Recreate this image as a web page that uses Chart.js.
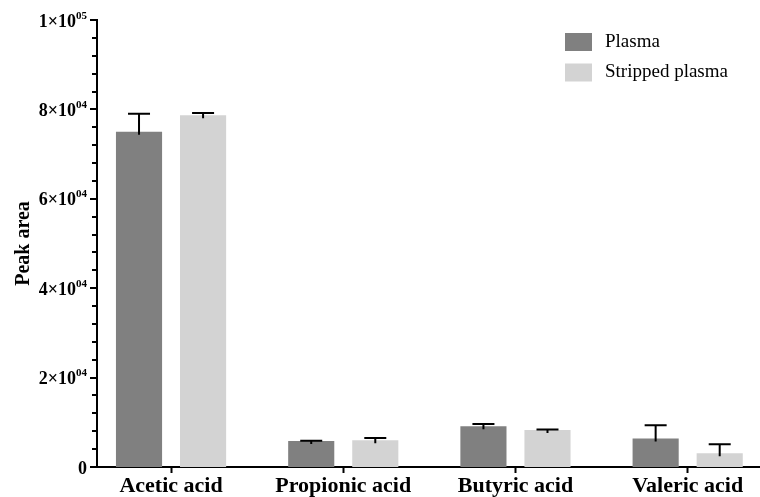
<!DOCTYPE html>
<html>
<head>
<meta charset="utf-8">
<script src="https://cdn.jsdelivr.net/npm/chart.js@4"></script>
<style>
  html, body { margin: 0; padding: 0; background: #fff; overflow: hidden; }
  #wrap { width: 760px; height: 497px; }
</style>
</head>
<body>
<div id="wrap"><canvas id="acidChart"></canvas></div>
<script>
const categories = ['Acetic acid', 'Propionic acid', 'Butyric acid', 'Valeric acid'];
const plasmaValues = [75000, 5800, 9100, 6400];
const plasmaErrors = [4000, 100, 500, 2950];
const strippedValues = [78700, 6000, 8300, 3050];
const strippedErrors = [500, 500, 100, 2050];
const yTickValues = [0, 20000, 40000, 60000, 80000, 100000];
// tick label = base text + superscript exponent
const yTickBase = ['0', '2\u00d710', '4\u00d710', '6\u00d710', '8\u00d710', '1\u00d710'];
const yTickExp = ['', '04', '04', '04', '04', '05'];

const serif = '"Liberation Serif", "Times New Roman", serif';

// error whiskers (upper only), y-axis ticks and labels, legend
const extras = {
    id: 'extras',
    afterDatasetsDraw(chart) {
        const ctx = chart.ctx;
        const y = chart.scales.y;
        const errs = [plasmaErrors, strippedErrors];
        ctx.save();
        ctx.strokeStyle = '#000';
        ctx.lineWidth = 2;
        chart.data.datasets.forEach((ds, i) => {
            chart.getDatasetMeta(i).data.forEach((bar, j) => {
                const top = y.getPixelForValue(ds.data[j].y);
                const cap = y.getPixelForValue(ds.data[j].y + errs[i][j]);
                ctx.beginPath();
                ctx.moveTo(bar.x, top + 3);
                ctx.lineTo(bar.x, cap);
                ctx.moveTo(bar.x - 11, cap);
                ctx.lineTo(bar.x + 11, cap);
                ctx.stroke();
            });
        });
        // y ticks: major every 20000, minor every 4000
        const left = chart.chartArea.left;
        for (let v = 0; v <= 100000; v += 4000) {
            const py = Math.round(y.getPixelForValue(v));
            const len = v % 20000 === 0 ? 7 : 5;
            ctx.beginPath();
            ctx.moveTo(left - len, py);
            ctx.lineTo(left, py);
            ctx.stroke();
        }
        // y tick labels with superscript exponent
        ctx.fillStyle = '#000';
        ctx.textBaseline = 'alphabetic';
        ctx.textAlign = 'left';
        const baseFont = 'bold 18px ' + serif;
        const expFont = 'bold 11px ' + serif;
        yTickValues.forEach((v, k) => {
            const py = y.getPixelForValue(v);
            ctx.font = expFont;
            const ew = ctx.measureText(yTickExp[k]).width;
            ctx.font = baseFont;
            const bw = ctx.measureText(yTickBase[k]).width;
            const right = 87;
            const x0 = right - ew - bw;
            ctx.fillText(yTickBase[k], x0, py + 6.5);
            if (yTickExp[k]) {
                ctx.font = expFont;
                ctx.fillText(yTickExp[k], x0 + bw, py - 1.5);
            }
        });
        // legend
        ctx.font = '19px ' + serif;
        ctx.textBaseline = 'middle';
        chart.data.datasets.forEach((ds, i) => {
            const ty = 33 + i * 30.5;
            ctx.fillStyle = ds.backgroundColor;
            ctx.fillRect(565, ty, 27, 18);
            ctx.fillStyle = '#000';
            ctx.fillText(ds.label, 605, ty + 9);
        });
        ctx.restore();
    }
};

const ctx = document.getElementById('acidChart').getContext('2d');
const acidChart = new Chart(ctx, {
    type: 'bar',
    data: {
        datasets: [{
            label: 'Plasma',
            data: plasmaValues.map((v, i) => ({ x: i, y: v })),
            backgroundColor: '#808080',
            borderWidth: 0,
        }, {
            label: 'Stripped plasma',
            data: strippedValues.map((v, i) => ({ x: i, y: v })),
            backgroundColor: '#d3d3d3',
            borderWidth: 0,
        }]
    },
    options: {
        responsive: true,
        maintainAspectRatio: false,
        animation: false,
        layout: { padding: { top: 20, right: 0, left: 0, bottom: 0 } },
        datasets: {
            bar: { categoryPercentage: 0.744, barPercentage: 0.72 }
        },
        scales: {
            x: {
                type: 'linear',
                offset: false,
                min: -0.43,
                max: 3.42,
                afterBuildTicks: (scale) => {
                    scale.ticks = categories.map((c, i) => ({ value: i }));
                },
                border: { color: '#000', width: 2 },
                grid: {
                    offset: false,
                    drawOnChartArea: false,
                    drawTicks: true,
                    tickLength: 6,
                    tickColor: '#000',
                    tickWidth: 2,
                },
                ticks: {
                    autoSkip: false,
                    maxRotation: 0,
                    padding: 0,
                    color: '#000',
                    font: { family: serif, size: 22, weight: 'bold' },
                    callback: (v) => categories[v],
                },
                afterFit: (scale) => { scale.height = 30; },
            },
            y: {
                min: 0,
                max: 100000,
                border: { color: '#000', width: 2 },
                grid: { display: false, drawTicks: false },
                afterBuildTicks: (scale) => {
                    scale.ticks = yTickValues.map(v => ({ value: v }));
                },
                ticks: { display: false },
                title: {
                    display: true,
                    text: 'Peak area',
                    color: '#000',
                    padding: { top: 12, bottom: 0 },
                    font: { family: serif, size: 20, weight: 'bold' },
                },
                afterFit: (scale) => { scale.width = 97; },
            }
        },
        plugins: {
            legend: { display: false },
            tooltip: { enabled: false },
        },
    },
    plugins: [extras]
});
</script>
</body>
</html>
